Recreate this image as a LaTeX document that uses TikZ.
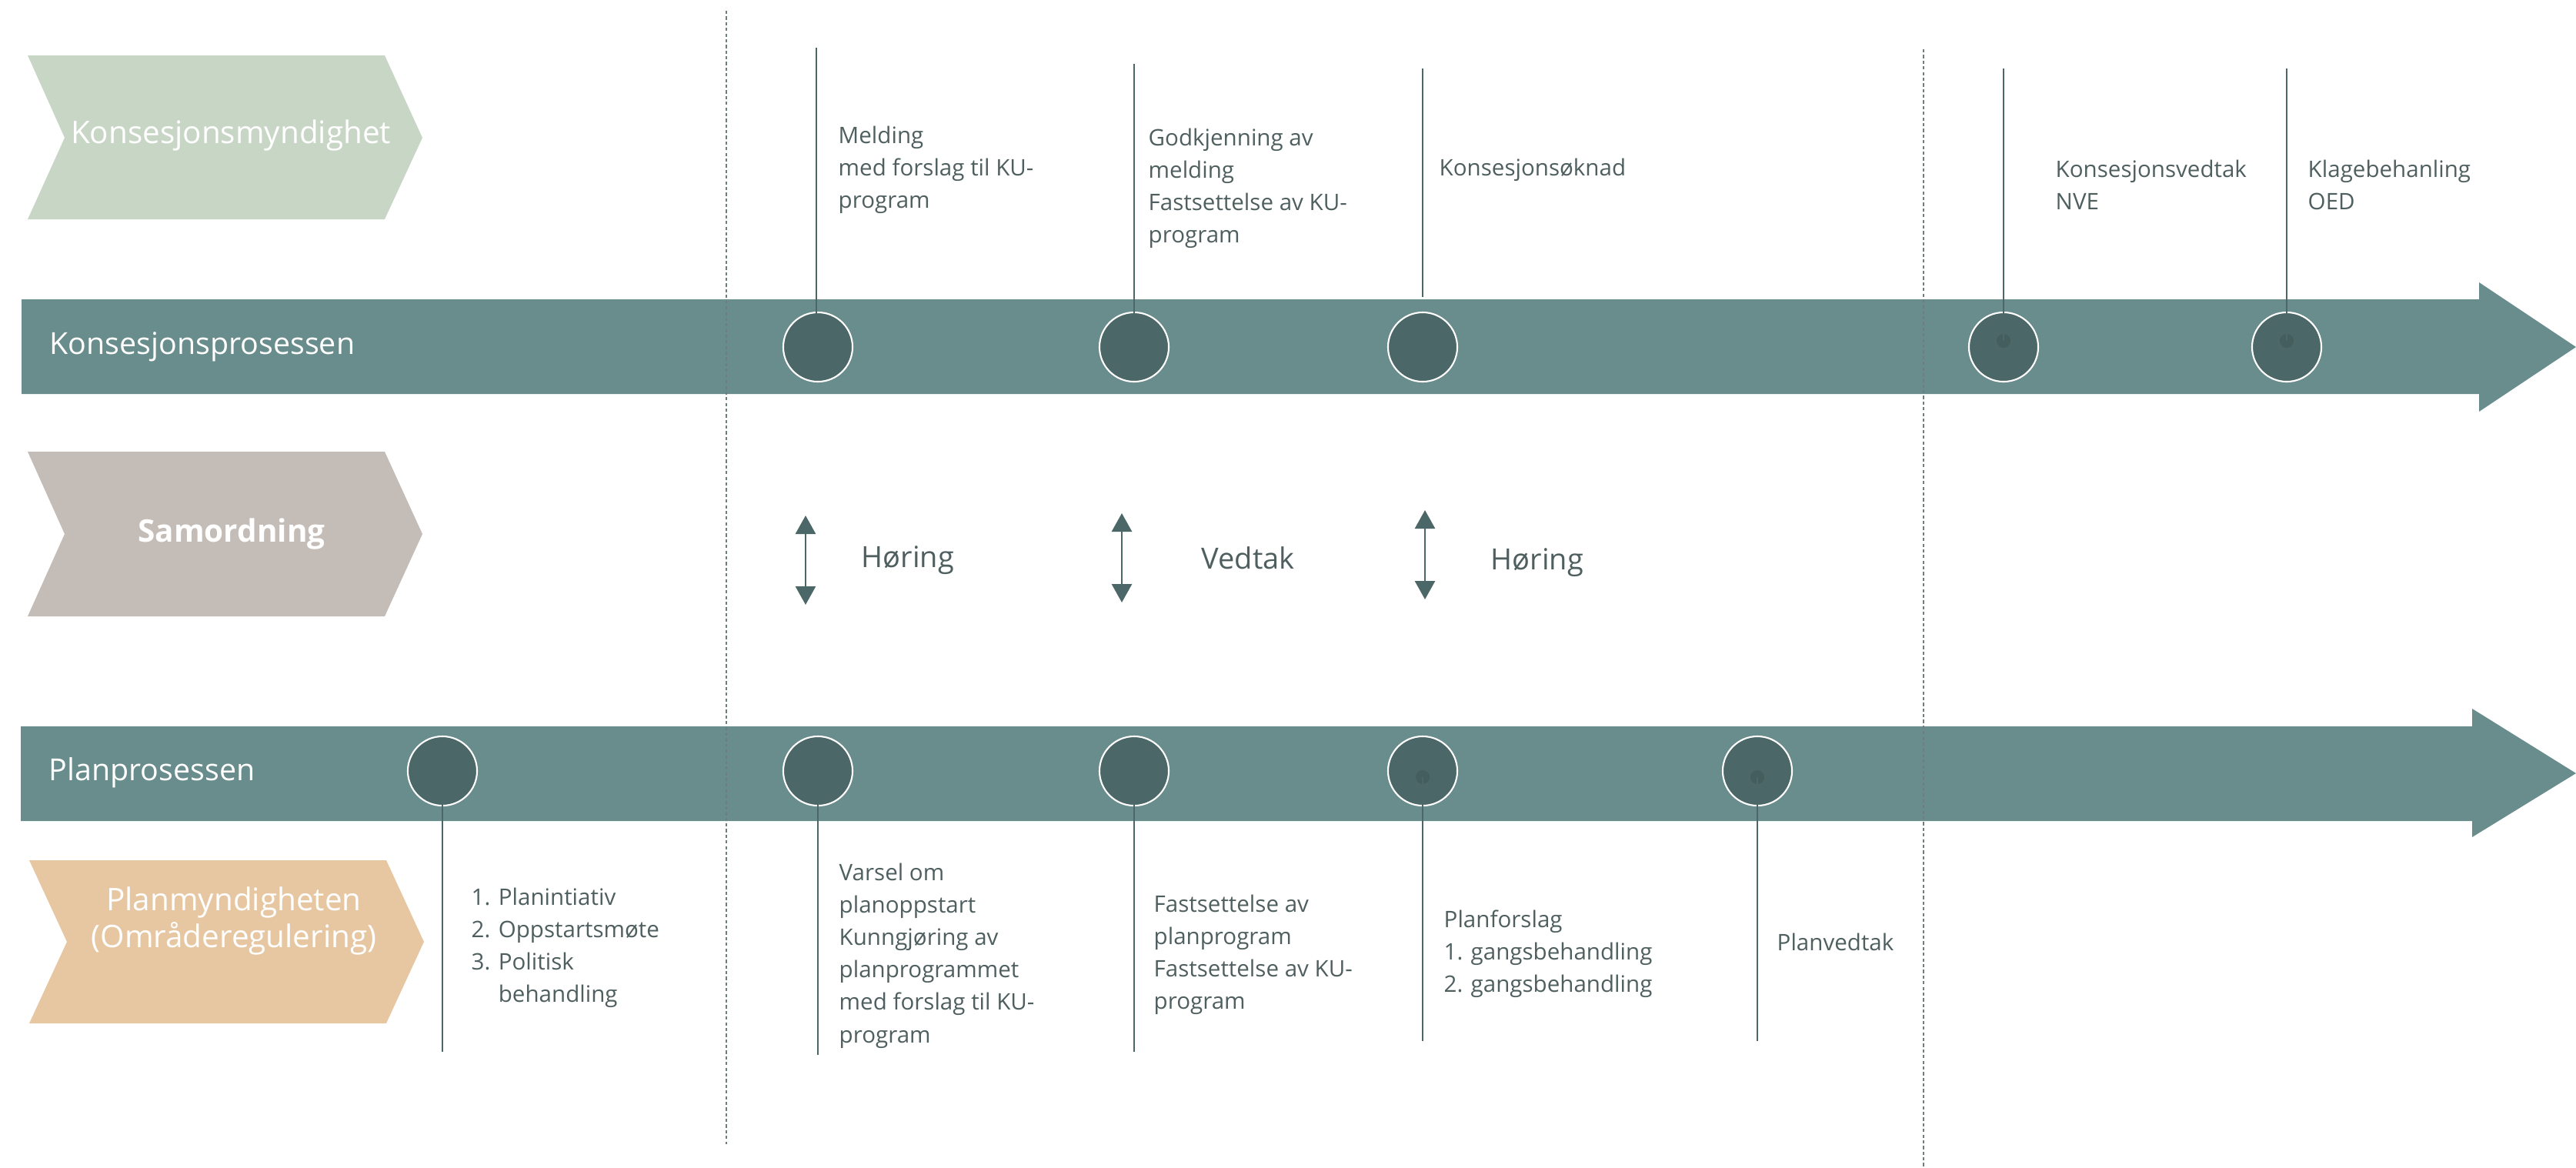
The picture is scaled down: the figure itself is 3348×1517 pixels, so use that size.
\documentclass[tikz,border=0pt]{standalone}
\usepackage{fontspec}
\setmainfont{Open Sans}
\usetikzlibrary{arrows.meta}
\definecolor{chevA}{HTML}{C8D6C6}
\definecolor{chevB}{HTML}{C3BCB7}
\definecolor{chevC}{HTML}{E6C7A2}
\definecolor{barcol}{HTML}{688D8C}
\definecolor{dotcol}{HTML}{4B6767}
\definecolor{txtcol}{HTML}{4F5F5F}
\definecolor{dashcol}{HTML}{6E7E7E}
\begin{document}
\begin{tikzpicture}[x=0.01cm,y=-0.01cm,
  chevtext/.style={text=white,font=\fontsize{11.5}{13.5}\selectfont,align=center,inner sep=0},
  bartext/.style={text=white,font=\fontsize{11.2}{13.5}\selectfont,anchor=west,inner sep=0},
  milestone/.style={circle,fill=dotcol,draw=white,line width=0.6pt,minimum size=0.9cm,inner sep=0},
  smalldot/.style={circle,fill=dotcol!90!black,minimum size=0.18cm,inner sep=0},
  vline/.style={draw=dotcol,line width=0.8pt},
  note/.style={text=txtcol,font=\fontsize{8.4}{12}\selectfont,align=left,anchor=north west,inner sep=0},
  samtext/.style={text=txtcol,font=\fontsize{10.8}{13}\selectfont,anchor=west,inner sep=0},
  dblarrow/.style={draw=dotcol,line width=0.8pt,{Triangle[length=0.24cm,width=0.26cm]}-{Triangle[length=0.24cm,width=0.26cm]}},
  divider/.style={draw=dashcol,line width=0.5pt,dash pattern=on 1.2pt off 0.9pt}
]
\useasboundingbox (0,0) rectangle (3348,1517);

% role chevrons
\fill[chevA] (36,72) -- (500,72) -- (549,179) -- (500,285) -- (36,285) -- (84,179) -- cycle;
\node[chevtext] (kmyn) at (300,176) {Konsesjonsmyndighet};
\fill[chevB] (36,587) -- (500,587) -- (549,694) -- (500,801) -- (36,801) -- (84,694) -- cycle;
\node[chevtext,font=\bfseries\fontsize{11.5}{13.5}\selectfont] (samord) at (301,694) {Samordning};
\fill[chevC] (38,1118) -- (502,1118) -- (551,1224) -- (502,1330) -- (38,1330) -- (87,1224) -- cycle;
\node[chevtext] (pmyn) at (304,1197) {Planmyndigheten\\(Områderegulering)};

% process arrows
\fill[barcol] (28,389) -- (3222,389) -- (3222,367) -- (3348,451) -- (3222,535) -- (3222,512) -- (28,512) -- cycle;
\node[bartext] (kpros) at (64,451) {Konsesjonsprosessen};
\fill[barcol] (27,944) -- (3213,944) -- (3213,921) -- (3348,1005) -- (3213,1088) -- (3213,1067) -- (27,1067) -- cycle;
\node[bartext] (ppros) at (63,1004) {Planprosessen};

% dashed phase dividers
\coordinate (d1a) at (944,14);
\coordinate (d1b) at (944,1487);
\coordinate (d2a) at (2500,64);
\coordinate (d2b) at (2500,1517);
\draw[divider] (d1a) -- (d1b);
\draw[divider] (d2a) -- (d2b);

% top milestones
\node[milestone] (k1) at (1063,451) {};
\node[milestone] (k2) at (1474,451) {};
\node[milestone] (k3) at (1849,451) {};
\node[milestone] (k4) at (2604,451) {};
\node[milestone] (k5) at (2972,451) {};
\node[smalldot] (k4d) at (2604,443) {};
\node[smalldot] (k5d) at (2972,443) {};

\coordinate (kt1) at (1061,62);
\coordinate (kt2) at (1474,83);
\coordinate (kt3) at (1849,89);
\coordinate (kt3e) at (1849,386);
\coordinate (kt4) at (2604,89);
\coordinate (kt5) at (2972,89);
\draw[vline,shorten >=0.17cm] (kt1) -- (kt1 |- k1.center);
\draw[vline] (kt2) -- (k2.center);
\draw[vline] (kt3) -- (kt3e);
\draw[vline] (kt4) -- (k4d.center);
\draw[vline] (kt5) -- (k5d.center);

\node[note] (n1) at (1089,163) {Melding\\med forslag til KU-\\program};
\node[note] (n2) at (1492,166) {Godkjenning av\\melding\\Fastsettelse av KU-\\program};
\node[note] (n3) at (1870,205) {Konsesjonsøknad};
\node[note] (n4) at (2671,207) {Konsesjonsvedtak\\NVE};
\node[note] (n5) at (2999,207) {Klagebehanling\\OED};

% coordination arrows
\coordinate (a1t) at (1047,670);
\coordinate (a1b) at (1047,786);
\coordinate (a2t) at (1458,667);
\coordinate (a2b) at (1458,783);
\coordinate (a3t) at (1852,663);
\coordinate (a3b) at (1852,779);
\draw[dblarrow] (a1t) -- (a1b);
\draw[dblarrow] (a2t) -- (a2b);
\draw[dblarrow] (a3t) -- (a3b);
\node[samtext] (s1) at (1119,728) {Høring};
\node[samtext] (s2) at (1561,725) {Vedtak};
\node[samtext] (s3) at (1937,731) {Høring};

% bottom milestones
\node[milestone] (p1) at (575,1002) {};
\node[milestone] (p2) at (1063,1002) {};
\node[milestone] (p3) at (1474,1002) {};
\node[milestone] (p4) at (1849,1002) {};
\node[milestone] (p5) at (2284,1002) {};
\node[smalldot] (p4d) at (1849,1010) {};
\node[smalldot] (p5d) at (2284,1010) {};

\coordinate (pb1) at (575,1367);
\coordinate (pb2) at (1063,1371);
\coordinate (pb3) at (1474,1367);
\coordinate (pb4) at (1849,1353);
\coordinate (pb5) at (2284,1353);
\draw[vline] (p1.center) -- (pb1);
\draw[vline] (p2.center) -- (pb2);
\draw[vline] (p3.center) -- (pb3);
\draw[vline] (p4d.center) -- (pb4);
\draw[vline] (p5d.center) -- (pb5);

\node[note] (m1) at (612,1153) {\makebox[10pt][l]{1.}Planintiativ\\\makebox[10pt][l]{2.}Oppstartsmøte\\\makebox[10pt][l]{3.}Politisk\\\hspace*{10pt}behandling};
\node[note] (m2) at (1090,1121) {Varsel om\\planoppstart\\Kunngjøring av\\planprogrammet\\med forslag til KU-\\program};
\node[note] (m3) at (1499,1162) {Fastsettelse av\\planprogram\\Fastsettelse av KU-\\program};
\node[note] (m4) at (1876,1182) {Planforslag\\1. gangsbehandling\\2. gangsbehandling};
\node[note] (m5) at (2309,1212) {Planvedtak};
\end{tikzpicture}
\end{document}
